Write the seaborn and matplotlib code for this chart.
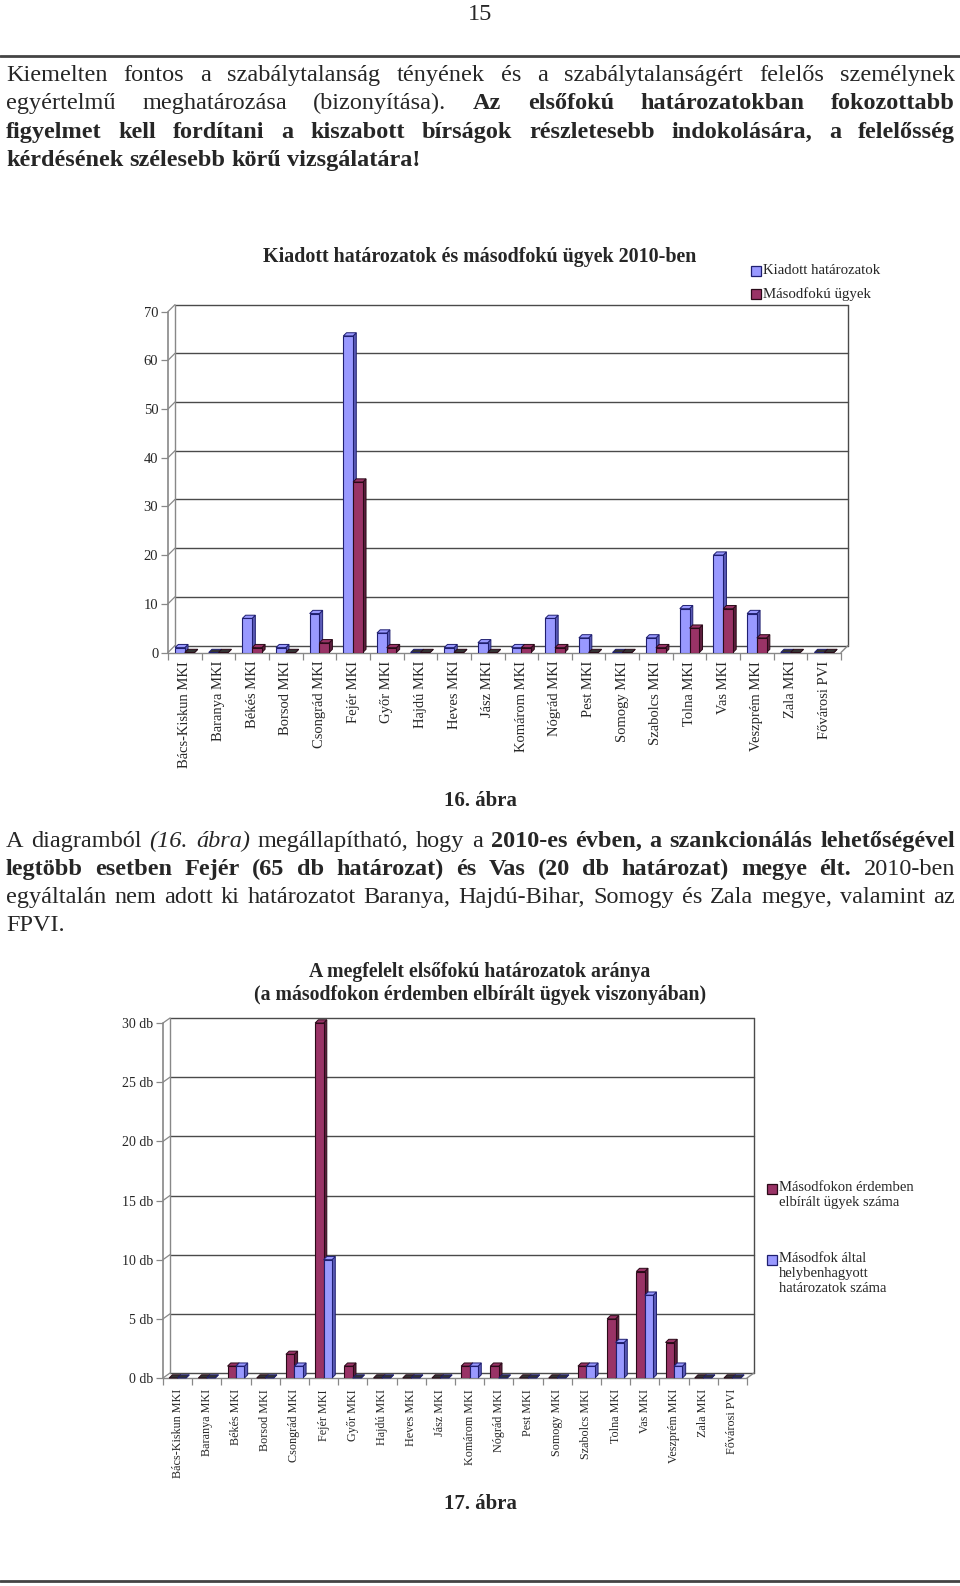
import numpy as np
import pandas as pd
import matplotlib
matplotlib.use("Agg")
import matplotlib.pyplot as plt
from matplotlib.patches import Polygon, Rectangle
from matplotlib.lines import Line2D
import seaborn as sns

# ---------------- data ----------------
categories = ["Bács-Kiskun MKI", "Baranya MKI", "Békés MKI", "Borsod MKI", "Csongrád MKI",
              "Fejér MKI", "Győr MKI", "Hajdú MKI", "Heves MKI", "Jász MKI",
              "Komárom MKI", "Nógrád MKI", "Pest MKI", "Somogy MKI", "Szabolcs MKI",
              "Tolna MKI", "Vas MKI", "Veszprém MKI", "Zala MKI", "Fővárosi PVI"]

kiadott = [1, 0, 7, 1, 8, 65, 4, 0, 1, 2, 1, 7, 3, 0, 3, 9, 20, 8, 0, 0]
masodfoku = [0, 0, 1, 0, 2, 35, 1, 0, 0, 0, 1, 1, 0, 0, 1, 5, 9, 3, 0, 0]

erdemben = [0, 0, 1, 0, 2, 30, 1, 0, 0, 0, 1, 1, 0, 0, 1, 5, 9, 3, 0, 0]
helyben = [0, 0, 1, 0, 1, 10, 0, 0, 0, 0, 1, 0, 0, 0, 1, 3, 7, 1, 0, 0]

series1 = ["Kiadott határozatok", "Másodfokú ügyek"]
series2 = ["Másodfokon érdemben\nelbírált ügyek száma", "Másodfok által\nhelybenhagyott\nhatározatok száma"]

yticks1 = [0, 10, 20, 30, 40, 50, 60, 70]
yticklabels1 = ["0", "10", "20", "30", "40", "50", "60", "70"]
yticks2 = [0, 5, 10, 15, 20, 25, 30]
yticklabels2 = ["0 db", "5 db", "10 db", "15 db", "20 db", "25 db", "30 db"]

title1 = "Kiadott határozatok és másodfokú ügyek 2010-ben"
title2 = "A megfelelt elsőfokú határozatok aránya\n(a másodfokon érdemben elbírált ügyek viszonyában)"

BLUE, BLUE_SIDE, BLUE_EDGE = "#9999FF", "#5C5CB8", "#1F1F70"
MAROON, MAROON_SIDE, MAROON_EDGE = "#993366", "#5E1F3E", "#2A0A18"

# ---------------- figure ----------------
W, H = 960, 1586
sns.set_style("white")
plt.rcParams["font.family"] = ["Liberation Serif", "DejaVu Serif"]
fig = plt.figure(figsize=(W / 100, H / 100), dpi=100)
fig.patch.set_facecolor("white")


def fx(px):
    return px / W


def fy(py):
    return 1 - py / H


renderer = fig.canvas.get_renderer()


def text_width(s, size, weight="normal", style="normal"):
    t = fig.text(0, 0, s, fontsize=size, fontweight=weight, fontstyle=style)
    w = t.get_window_extent(renderer).width
    t.remove()
    return w


STYLES = {"n": ("normal", "normal"), "b": ("bold", "normal"), "i": ("normal", "italic")}


def draw_line(tokens, y_base, x0, x1, size, justify=True):
    words = []
    for txt, st in tokens:
        for w in txt.split():
            words.append((w, st))
    widths = [text_width(w, size, *STYLES[st]) for w, st in words]
    space = text_width("a a", size) - text_width("aa", size)
    if justify and len(words) > 1:
        gap = (x1 - x0 - sum(widths)) / (len(words) - 1)
    else:
        gap = space
    x = x0
    for (w, st), wd in zip(words, widths):
        weight, style = STYLES[st]
        fig.text(fx(x), fy(y_base), w, fontsize=size, fontweight=weight,
                 fontstyle=style, ha="left", va="baseline")
        x += wd + gap


BODY = 17.5
# page number and rules
fig.text(fx(480), fy(14), "15", fontsize=BODY, ha="center", va="center")
fig.add_artist(Line2D([0, 1], [fy(56), fy(56)], color="#444444", lw=2))
fig.add_artist(Line2D([0, 1], [fy(1581), fy(1581)], color="#444444", lw=2))

X0, X1 = 6, 955
para1 = [
    [("Kiemelten fontos a szabálytalanság tényének és a szabálytalanságért felelős személynek", "n")],
    [("egyértelmű meghatározása (bizonyítása).", "n"), ("Az elsőfokú határozatokban fokozottabb", "b")],
    [("figyelmet kell fordítani a kiszabott bírságok részletesebb indokolására, a felelősség", "b")],
    [("kérdésének szélesebb körű vizsgálatára!", "b")],
]
ys1 = [81, 109, 138, 166]
for i, (ln, yb) in enumerate(zip(para1, ys1)):
    draw_line(ln, yb, X0, X1, BODY, justify=(i < len(para1) - 1))

para2 = [
    [("A diagramból", "n"), ("(16. ábra)", "i"), ("megállapítható, hogy a", "n"),
     ("2010-es évben, a szankcionálás lehetőségével", "b")],
    [("legtöbb esetben Fejér (65 db határozat) és Vas (20 db határozat) megye élt.", "b"), ("2010-ben", "n")],
    [("egyáltalán nem adott ki határozatot Baranya, Hajdú-Bihar, Somogy és Zala megye, valamint az", "n")],
    [("FPVI.", "n")],
]
ys2 = [847, 875, 903, 931]
for i, (ln, yb) in enumerate(zip(para2, ys2)):
    draw_line(ln, yb, X0, X1, BODY, justify=(i < len(para2) - 1))

fig.text(fx(480), fy(801), "16. ábra", fontsize=15, fontweight="bold", ha="center", va="center")
fig.text(fx(480), fy(1504), "17. ábra", fontsize=15, fontweight="bold", ha="center", va="center")


# ---------------- 3D-like bar chart helper ----------------
def chart(rect, s_names, vals_a, vals_b, colors, sides, edges, yticks, ylabels,
          dxp, dyp, tick_fs, cat_fs, cat_pad):
    ax = fig.add_axes(rect)
    df = pd.DataFrame({
        "cat": categories * 2,
        "series": [s_names[0]] * len(categories) + [s_names[1]] * len(categories),
        "val": list(vals_a) + list(vals_b),
    })
    sns.barplot(data=df, x="cat", y="val", hue="series", hue_order=s_names,
                palette=colors, saturation=1, width=0.58, ax=ax, legend=False,
                zorder=3)
    ymax = yticks[-1]
    ax.set_xlim(-0.5, len(categories) - 0.5)
    ax.set_ylim(0, ymax)
    for sp in ax.spines.values():
        sp.set_visible(False)
    ax.set_xlabel("")
    ax.set_ylabel("")
    ax.patch.set_alpha(0)

    xr = len(categories)
    dx = dxp * xr / ax.bbox.width
    dy = dyp * ymax / ax.bbox.height
    bdx = 3.2 * xr / ax.bbox.width
    bdy = 3.2 * ymax / ax.bbox.height

    n = len(categories)
    for i, p in enumerate(list(ax.patches)):
        k = i // n
        p.set_edgecolor(edges[k])
        p.set_linewidth(0.8)
        p.set_zorder(3 + 0.01 * i)
        x0, w, h = p.get_x(), p.get_width(), p.get_height()
        side = Polygon([(x0 + w, 0), (x0 + w + bdx, bdy), (x0 + w + bdx, h + bdy), (x0 + w, h)],
                       closed=True, facecolor=sides[k], edgecolor=edges[k], lw=0.7,
                       zorder=2.9 + 0.01 * i, clip_on=False)
        top = Polygon([(x0, h), (x0 + w, h), (x0 + w + bdx, h + bdy), (x0 + bdx, h + bdy)],
                      closed=True, facecolor=colors[k] if h > 0 else "#333333",
                      edgecolor=edges[k], lw=0.7, zorder=2.9 + 0.01 * i, clip_on=False)
        ax.add_patch(side)
        ax.add_patch(top)

    xa, xb = -0.5, n - 0.5
    gcol, acol = "#4a4a4a", "#888888"
    for t in yticks:
        ax.add_line(Line2D([xa + dx, xb + dx], [t + dy, t + dy], color=gcol, lw=1.0,
                           zorder=1, clip_on=False))
        ax.add_line(Line2D([xa, xa + dx], [t, t + dy], color=acol, lw=0.9,
                           zorder=1, clip_on=False))
    ax.add_line(Line2D([xa + dx, xa + dx], [dy, ymax + dy], color=acol, lw=1.0, zorder=1, clip_on=False))
    ax.add_line(Line2D([xb + dx, xb + dx], [dy, ymax + dy], color=gcol, lw=1.0, zorder=1, clip_on=False))
    ax.add_line(Line2D([xa, xb], [0, 0], color=acol, lw=1.0, zorder=1.5, clip_on=False))
    ax.add_line(Line2D([xb, xb + dx], [0, dy], color=acol, lw=1.0, zorder=1.5, clip_on=False))
    ax.add_line(Line2D([xa, xa], [0, ymax], color=acol, lw=1.2, zorder=1.5, clip_on=False))

    ax.set_yticks(yticks)
    ax.set_yticklabels(ylabels, fontsize=tick_fs)
    ax.tick_params(axis="y", left=True, length=5, width=0.9, color=acol, pad=2)
    ax.set_xticks(range(n))
    ax.set_xticklabels(categories, rotation=90, fontsize=cat_fs, ha="center", va="top")
    ax.set_xticks(np.arange(-0.5, n, 1.0), minor=True)
    ax.tick_params(axis="x", which="major", bottom=False, length=0, pad=cat_pad)
    ax.tick_params(axis="x", which="minor", bottom=True, length=5, width=0.9, color=acol)
    ax.grid(False)
    return ax


def legend_entry(xsq, ycenter, color, edge, label, size, text_top=None):
    s = 10
    fig.add_artist(Rectangle((fx(xsq), fy(ycenter + s / 2)), s / W, s / H, facecolor=color,
                             edgecolor=edge, lw=0.9, transform=fig.transFigure))
    if text_top is None:
        fig.text(fx(xsq + 12), fy(ycenter), label, fontsize=size, ha="left", va="center")
    else:
        fig.text(fx(xsq + 12), fy(text_top), label, fontsize=size, ha="left", va="top",
                 linespacing=1.2)


# Chart 1
rect1 = [fx(168), fy(652.5), fx(841) - fx(168), fy(311.6) - fy(652.5)]
chart(rect1, series1, kiadott, masodfoku, [BLUE, MAROON], [BLUE_SIDE, MAROON_SIDE],
      [BLUE_EDGE, MAROON_EDGE], yticks1, yticklabels1, 7, 7, 10.5, 10.5, 6)
fig.text(fx(480), fy(257), title1, fontsize=14.4, fontweight="bold", ha="center", va="center")
legend_entry(751, 271, BLUE, BLUE_EDGE, series1[0], 10.7)
legend_entry(751, 294, MAROON, MAROON_EDGE, series1[1], 10.7)

# Chart 2
rect2 = [fx(163), fy(1378), fx(747) - fx(163), fy(1023) - fy(1378)]
chart(rect2, series2, erdemben, helyben, [MAROON, BLUE], [MAROON_SIDE, BLUE_SIDE],
      [MAROON_EDGE, BLUE_EDGE], yticks2, yticklabels2, 7, 5, 10, 8.7, 8)
fig.text(fx(480), fy(983), title2, fontsize=14.2, fontweight="bold", ha="center", va="center",
         linespacing=1.2)
legend_entry(767, 1189, MAROON, MAROON_EDGE, series2[0], 10.5, text_top=1181)
legend_entry(767, 1260, BLUE, BLUE_EDGE, series2[1], 10.5, text_top=1252)

fig.savefig("out.png", dpi=100, facecolor="white")
